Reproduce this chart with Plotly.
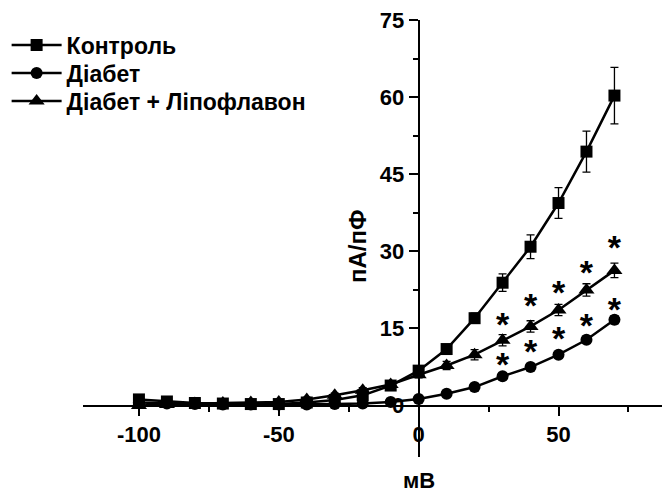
import plotly.graph_objects as go

voltage = [-100, -90, -80, -70, -60, -50, -40, -30, -20, -10, 0, 10, 20, 30, 40, 50, 60, 70]

control = [1.2, 0.8, 0.5, 0.4, 0.3, 0.3, 0.6, 1.1, 2.0, 3.9, 6.8, 11.0, 17.0, 23.9, 30.9, 39.4, 49.4, 60.3]
control_err = [0.3, 0.3, 0.3, 0.3, 0.3, 0.3, 0.3, 0.3, 0.4, 0.5, 0.6, 0.7, 1.0, 1.7, 2.3, 3.0, 4.0, 5.5]

diabetes = [0.6, 0.4, 0.3, 0.2, 0.2, 0.2, 0.2, 0.3, 0.4, 0.7, 1.3, 2.3, 3.6, 5.7, 7.5, 9.9, 12.8, 16.7]
diabetes_err = [0.2, 0.2, 0.2, 0.2, 0.2, 0.2, 0.2, 0.2, 0.2, 0.3, 0.3, 0.4, 0.4, 0.5, 0.5, 0.6, 0.7, 0.8]

lipo = [0.0, 0.2, 0.4, 0.5, 0.6, 0.7, 1.2, 2.0, 3.0, 4.1, 6.0, 7.8, 9.9, 12.7, 15.4, 18.6, 22.5, 26.3]
lipo_err = [0.3, 0.3, 0.3, 0.3, 0.3, 0.3, 0.4, 0.4, 0.5, 0.5, 0.6, 0.8, 1.0, 1.1, 1.1, 1.1, 1.2, 1.4]

star_x = [30, 40, 50, 60, 70]
star_lipo_y = [16.7, 20.3, 22.9, 26.7, 31.6]
star_diab_y = [8.9, 11.4, 13.9, 16.4, 19.6]

names = ["Контроль", "Діабет", "Діабет + Ліпофлавон"]
x_title = "мВ"
y_title = "пА/пФ"

FONT = "Liberation Sans, Arial, sans-serif"
X_RANGE = [-120, 87]
Y_RANGE = [-10, 75]
W, H = 662, 493
M_T, M_B = 20, 36
PLOT_H = H - M_T - M_B
PX_PER_Y = PLOT_H / (Y_RANGE[1] - Y_RANGE[0])

fig = go.Figure()

legend_ids = ["legend", "legend2", "legend3"]
series = [
    (names[0], control, control_err, "square", 12),
    (names[1], diabetes, diabetes_err, "circle", 12),
    (names[2], lipo, lipo_err, "triangle-up", 14),
]
for (name, ys, err, sym, size), lg in zip(series, legend_ids):
    fig.add_trace(go.Scatter(
        x=voltage, y=ys, name=name, mode="lines+markers", legend=lg,
        line=dict(color="black", width=2.5),
        marker=dict(symbol=sym, size=size, color="black"),
        error_y=dict(type="data", array=err, visible=True, color="black",
                     thickness=1.3, width=4),
    ))

STAR_FS = 34
star_font = dict(family=FONT, size=STAR_FS, color="black", weight="bold")
star_shift = 0.22 * STAR_FS / PX_PER_Y
for sy in (star_lipo_y, star_diab_y):
    fig.add_trace(go.Scatter(
        x=star_x, y=[v - star_shift for v in sy], mode="text", text=["*"] * len(star_x),
        textposition="middle center", textfont=star_font,
        showlegend=False, hoverinfo="skip",
    ))

x_dom = [83 / W, 1.0]
y_cross = (0 - Y_RANGE[0]) / (Y_RANGE[1] - Y_RANGE[0])
x_cross = x_dom[0] + (x_dom[1] - x_dom[0]) * (0 - X_RANGE[0]) / (X_RANGE[1] - X_RANGE[0])

tickfont = dict(family=FONT, size=22, color="black", weight="bold")
legfont = dict(family=FONT, size=23, color="black", weight="bold")


def py(pixel_y):
    return (H - M_B - pixel_y) / PLOT_H


legend_rows = [45, 73, 101]
legends = {}
for lg, row in zip(legend_ids, legend_rows):
    legends[lg] = dict(
        x=0.01, y=py(row), xanchor="left", yanchor="middle",
        font=legfont, bgcolor="rgba(0,0,0,0)", itemwidth=50,
    )

fig.update_layout(
    width=W, height=H,
    margin=dict(l=0, r=0, t=M_T, b=M_B),
    paper_bgcolor="white", plot_bgcolor="white",
    showlegend=True,
    **legends,
    xaxis=dict(
        range=X_RANGE, domain=x_dom, anchor="free", position=y_cross,
        showgrid=False, zeroline=False, showline=True, linecolor="black", linewidth=2,
        tickmode="array", tickvals=[-100, -50, 0, 50], ticktext=["-100", "-50", "0", "50"],
        ticks="outside", ticklen=9, tickwidth=2, tickcolor="black",
        minor=dict(tickvals=[-75, -25, 25, 75], ticks="outside", ticklen=5, tickwidth=2, tickcolor="black"),
        tickfont=tickfont,
    ),
    yaxis=dict(
        range=Y_RANGE, domain=[0, 1], anchor="free", position=x_cross,
        showgrid=False, zeroline=False, showline=True, linecolor="black", linewidth=2,
        tickmode="array", tickvals=[0, 15, 30, 45, 60, 75],
        ticks="outside", ticklen=9, tickwidth=2, tickcolor="black",
        minor=dict(tickvals=[7.5, 22.5, 37.5, 52.5, 67.5], ticks="outside", ticklen=5, tickwidth=2, tickcolor="black"),
        tickfont=tickfont,
    ),
    annotations=[
        dict(text=x_title, xref="paper", yref="paper", x=x_cross, y=py(480),
             xanchor="center", yanchor="middle", showarrow=False,
             font=dict(family=FONT, size=22, color="black", weight="bold")),
        dict(text=y_title, xref="paper", yref="paper", x=357 / W, y=py(247),
             xanchor="center", yanchor="middle", textangle=-90, showarrow=False,
             font=dict(family=FONT, size=24, color="black", weight="bold")),
    ],
)

fig.write_html(
    "out.html",
    config={"displayModeBar": False},
    post_script="document.body.style.margin='0';document.body.style.padding='0';",
)
